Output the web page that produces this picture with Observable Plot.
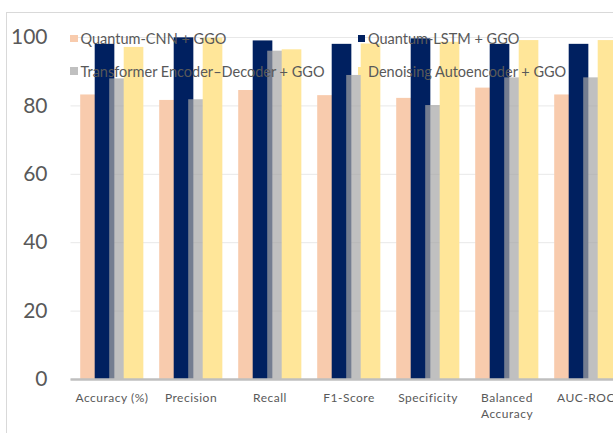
<!DOCTYPE html>
<html>
<head>
<meta charset="utf-8">
<script src="https://cdn.jsdelivr.net/npm/d3@7"></script>
<script src="https://cdn.jsdelivr.net/npm/@observablehq/plot@0.6"></script>
<style>
  html, body { margin: 0; padding: 0; background: #fff; overflow: hidden; width: 613px; height: 433px; }
  #chart { position: relative; width: 613px; height: 433px; overflow: hidden; }
  #frame { position: absolute; left: 6px; top: 12px; width: 700px; height: 500px; border: 1px solid #d9d9d9; pointer-events: none; }
  #chart svg { position: absolute; left: 0; top: 0; }
  #chart svg g[aria-label="x-axis tick label"] text { letter-spacing: 0.5px; }
  .key { position: absolute; display: flex; align-items: center; height: 16px; font-family: Lato, sans-serif; font-size: 14.5px; color: #595959; white-space: nowrap; }
  .key i { display: inline-block; width: 7.5px; height: 7.5px; margin-right: 3px; }
</style>
</head>
<body>
<div id="chart"><div id="frame"></div></div>
<script>
// Metrics on the x axis
const categories = ["Accuracy (%)", "Precision", "Recall", "F1-Score", "Specificity", "Balanced Accuracy", "AUC-ROC"];

// Model names (legend order)
const seriesNames = [
  "Quantum-CNN + GGO",
  "Quantum-LSTM + GGO",
  "Transformer Encoder–Decoder + GGO",
  "Denoising Autoencoder + GGO"
];

// Scores per metric, in category order
const quantumCNN    = [83.2, 81.6, 84.5, 83.0, 82.2, 85.2, 83.2];
const quantumLSTM   = [98.0, 99.9, 99.0, 98.0, 99.6, 98.0, 98.0];
const transformerED = [87.9, 81.8, 96.0, 88.9, 80.1, 88.2, 88.2];
const denoisingAE   = [97.1, 99.8, 96.4, 98.1, 98.6, 99.1, 99.1];

const yTicks = [0, 20, 40, 60, 80, 100];

const colors = ["#F8CBAD", "#002060", "#A5A5A5", "#FFE699"];
const opacities = [1, 1, 0.7, 1];

const series = [quantumCNN, quantumLSTM, transformerED, denoisingAE];
const rows = series.flatMap((vals, s) =>
  vals.map((v, i) => ({ metric: categories[i], series: seriesNames[s], value: v }))
);

// Clustered, overlapping bars inside each metric band
const width = 626, marginLeft = 70.5, marginRight = 0;
const step = (width - marginLeft - marginRight) / categories.length;
const groupPad = 8.2, barW = 20, barStep = 14.5;

const barMarks = seriesNames.map((name, s) =>
  Plot.barY(rows.filter(d => d.series === name), {
    x: "metric",
    y: "value",
    fill: colors[s],
    fillOpacity: opacities[s],
    insetLeft: groupPad + s * barStep,
    insetRight: step - groupPad - s * barStep - barW
  })
);

const chart = Plot.plot({
  width,
  height: 433,
  marginLeft,
  marginRight,
  marginTop: 37,
  marginBottom: 54,
  style: { fontFamily: "Lato, sans-serif", color: "#595959", background: "transparent", maxWidth: "none", overflow: "visible" },
  x: { domain: categories, padding: 0, axis: null },
  y: { domain: [0, 100], axis: null },
  marks: [
    Plot.gridY(yTicks, { stroke: "#e8e8e8", strokeOpacity: 1, strokeWidth: 1 }),
    ...barMarks,
    Plot.ruleY([0], { stroke: "#bfbfbf", strokeWidth: 2.5 }),
    Plot.axisY(yTicks, { tickSize: 0, tickPadding: 23.5, fontSize: 21, fill: "#595959", label: null }),
    Plot.axisX({
      tickSize: 0,
      tickPadding: 11,
      fontSize: 12,
      lineHeight: 1.33,
      fill: "#595959",
      label: null,
      tickFormat: d => d === "Balanced Accuracy" ? "Balanced\nAccuracy" : d
    })
  ]
});

const host = document.getElementById("chart");
host.insertBefore(chart, host.firstChild);

// Legend drawn over the plot area, two rows by two columns
const keyPos = [
  { left: 70, top: 30.5 },
  { left: 357.5, top: 30.5 },
  { left: 70, top: 63 },
  { left: 357.5, top: 63 }
];
seriesNames.forEach((name, s) => {
  const el = document.createElement("div");
  el.className = "key";
  el.style.left = keyPos[s].left + "px";
  el.style.top = keyPos[s].top + "px";
  const sw = document.createElement("i");
  sw.style.background = colors[s];
  sw.style.opacity = opacities[s] < 1 ? 0.7 : 1;
  el.appendChild(sw);
  el.appendChild(document.createTextNode(name));
  host.appendChild(el);
});
</script>
</body>
</html>
